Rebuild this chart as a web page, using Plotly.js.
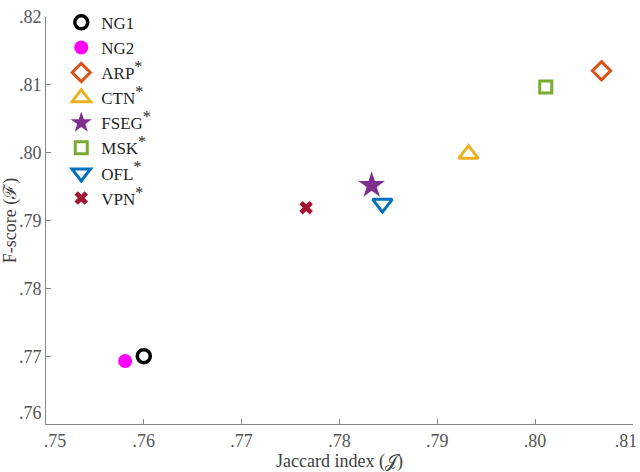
<!DOCTYPE html>
<html>
<head>
<meta charset="utf-8">
<script src="https://cdn.plot.ly/plotly-3.0.1.min.js"></script>
<style>
  html, body { margin: 0; padding: 0; background: #fff; }
  #chart { width: 640px; height: 472px; }
</style>
</head>
<body>
<div id="chart"></div>
<script>
// Scores per method
const methods = ['NG1', 'NG2', 'ARP', 'CTN', 'FSEG', 'MSK', 'OFL', 'VPN'];
const starred = [false, false, true, true, true, true, true, true];
const jaccard = [0.7600, 0.7581, 0.8068, 0.7932, 0.7833, 0.8011, 0.7844, 0.7766];
const fscore = [0.7700, 0.7693, 0.8121, 0.7998, 0.7952, 0.8097, 0.7925, 0.7919];

const xTicks = [0.75, 0.76, 0.77, 0.78, 0.79, 0.80, 0.81];
// end labels are nudged inwards, like the original figure
const xTickText = ['&nbsp;&nbsp;&nbsp;&nbsp;.75', '.76', '.77', '.78', '.79', '.80', '.81&nbsp;&nbsp;&nbsp;'];
const yTicks = [0.76, 0.77, 0.78, 0.79, 0.80, 0.81, 0.82];
const yTickText = ['.76<br>&nbsp;', '.77', '.78', '.79', '.80', '.81', '.82'];

// marker look for each method
const symbols = ['circle-open', 'circle', 'diamond-open', 'triangle-up-open', 'star', 'square-open', 'triangle-down-open', 'x'];
const colors = ['#000000', '#FF00FF', '#D95319', '#EDB120', '#7E2F8E', '#77AC30', '#0072BD', '#A2142F'];
const sizes = [13, 14, 14, 17, 20, 12, 17, 12];
const lineWidths = [3.5, 0, 3, 3, 0, 3, 3, 0];

const font = 'Liberation Serif, Times New Roman, serif';

const traces = methods.map((m, i) => ({
  x: [jaccard[i]],
  y: [fscore[i]],
  name: starred[i] ? m + '<sup><span style="font-size:16px">*</span></sup>' : m,
  type: 'scatter',
  mode: 'markers',
  marker: {
    symbol: symbols[i],
    color: colors[i],
    size: sizes[i],
    line: { color: colors[i], width: lineWidths[i] },
  },
}));

const layout = {
  width: 640,
  height: 472,
  margin: { l: 46, r: 7, t: 5, b: 48 },
  paper_bgcolor: '#fff',
  plot_bgcolor: '#fff',
  font: { family: font, size: 18, color: '#404040' },
  showlegend: true,
  legend: {
    x: 0.026, y: 1.03, xanchor: 'left', yanchor: 'top',
    bgcolor: 'rgba(0,0,0,0)',
    tracegroupgap: 0,
    font: { family: font, size: 17, color: '#262626' },
  },
  xaxis: {
    range: [0.75, 0.81002],
    tickvals: xTicks,
    ticktext: xTickText,
    ticklabeloverflow: 'allow',
    ticks: 'inside',
    ticklen: 5,
    tickcolor: '#888',
    showline: true,
    linecolor: '#888',
    linewidth: 1,
    showgrid: false,
    zeroline: false,
    tickfont: { family: font, size: 18, color: '#555' },
    title: { text: 'Jaccard index (𝒥)', font: { family: font, size: 18, color: '#404040' }, standoff: 6 },
  },
  yaxis: {
    range: [0.76, 0.82002],
    tickvals: yTicks,
    ticktext: yTickText,
    ticklabeloverflow: 'allow',
    ticks: 'inside',
    ticklen: 5,
    tickcolor: '#888',
    showline: true,
    linecolor: '#888',
    linewidth: 1,
    showgrid: false,
    zeroline: false,
    tickfont: { family: font, size: 18, color: '#555' },
    title: { text: 'F-score (ℱ)', font: { family: font, size: 18, color: '#404040' }, standoff: 2 },
  },
};

Plotly.newPlot('chart', traces, layout, { displayModeBar: false, staticPlot: true });
</script>
</body>
</html>
